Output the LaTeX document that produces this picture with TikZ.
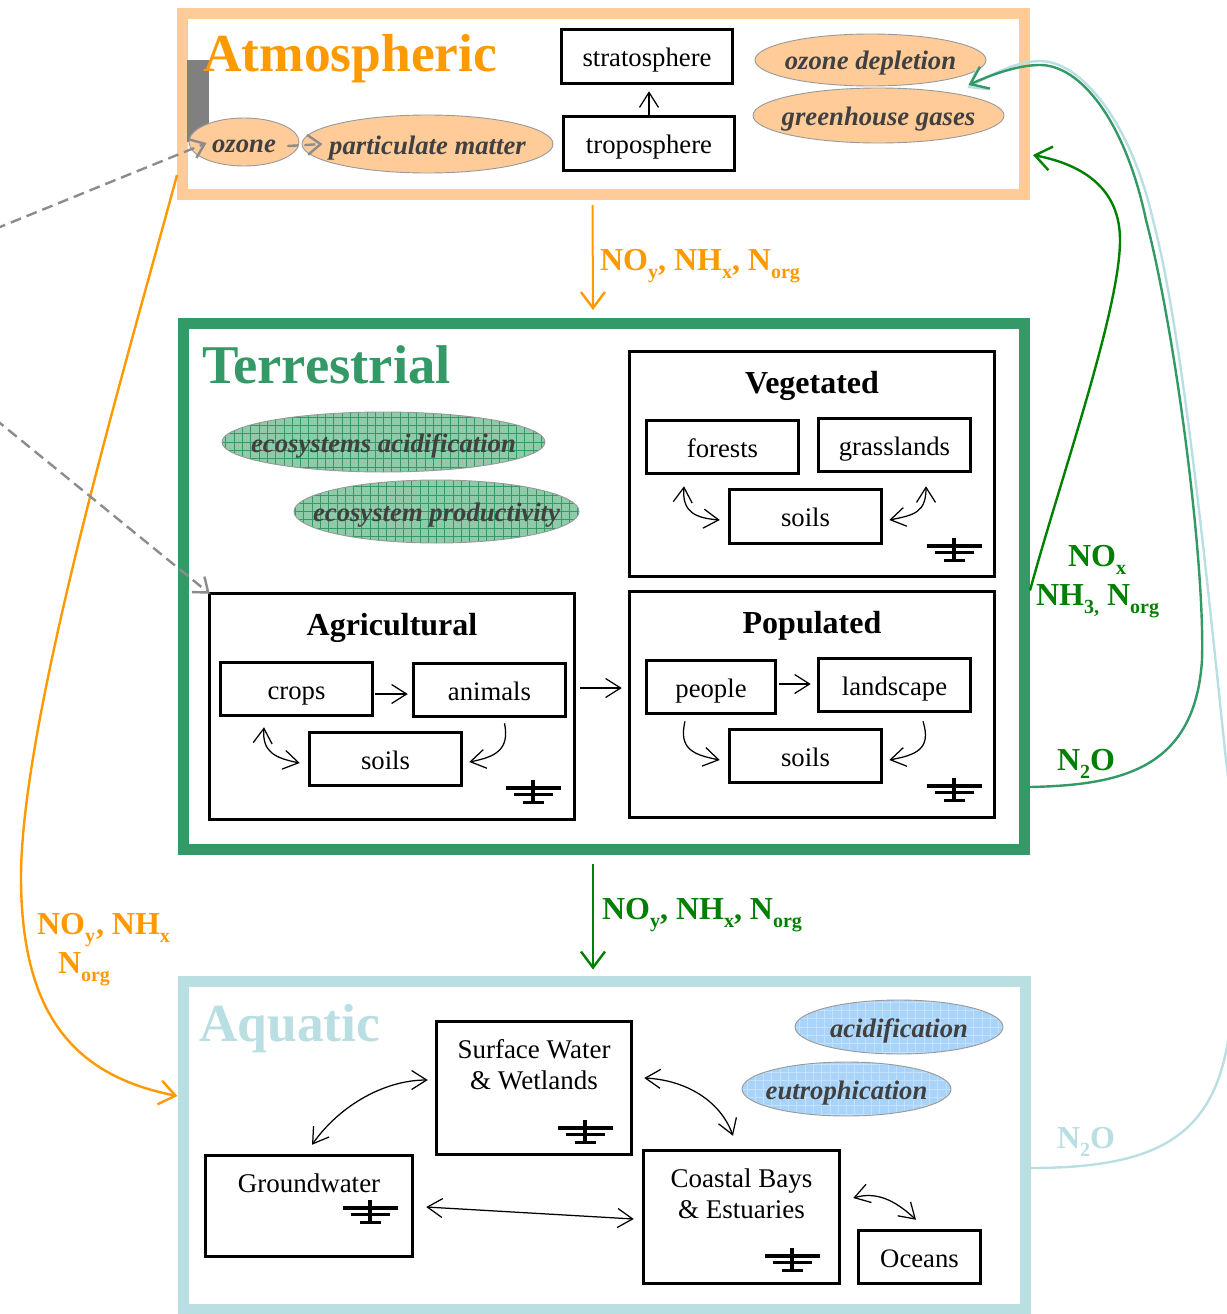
\documentclass[tikz,border=0pt]{standalone}
\usepackage{fontspec}
\setmainfont{Liberation Serif}
\usetikzlibrary{arrows.meta,shapes.geometric,calc}
\definecolor{cOrange}{HTML}{FF9900}
\definecolor{cPeach}{HTML}{FFCC99}
\definecolor{cSea}{HTML}{339966}
\definecolor{cGreen}{HTML}{008000}
\definecolor{cAqua}{HTML}{B9DFE3}
\definecolor{cGreenFill}{HTML}{8FCBA8}
\definecolor{cBlueFill}{HTML}{A8D4FA}
\definecolor{cBlueLine}{HTML}{C4E0FA}
\definecolor{cEllText}{HTML}{404040}
\definecolor{cDash}{HTML}{8C8C8C}
\newcommand{\sbs}[1]{\raisebox{-.28em}{\fontsize{20}{20}\selectfont #1}}
\tikzset{
  x=1pt,y=-1pt,
  frame/.style={draw=#1,line width=11pt,inner sep=0pt,fill=white},
  boxn/.style={draw=black,line width=3pt,inner sep=0pt,outer sep=0pt,text height=20pt,text depth=0pt,font=\fontsize{26.7}{32}\selectfont},
  plain/.style={inner sep=0pt,outer sep=0pt},
  bigtitle/.style={plain,font=\fontsize{53.5}{60}\selectfont\bfseries,anchor=base west},
  subtitle/.style={plain,font=\fontsize{32}{38}\selectfont\bfseries},
  bodytext/.style={plain,font=\fontsize{27}{32}\selectfont},
  flowlabel/.style={plain,font=\fontsize{32}{38}\selectfont\bfseries},
  ell/.style={ellipse,draw=gray!80,line width=.9pt,inner sep=0pt},
  elltext/.style={plain,text=cEllText,text height=20pt,text depth=0pt,font=\fontsize{26.7}{32}\selectfont\bfseries\itshape},
  peachell/.style={ell,fill=cPeach},
  thin arrow/.style={black,line width=1.25pt,-{Straight Barb[length=15pt,width=19pt,line width=1.25pt]}},
  both arrow/.style={black,line width=1.25pt,{Straight Barb[length=15pt,width=19pt,line width=1.25pt]}-{Straight Barb[length=15pt,width=19pt,line width=1.25pt]}},
  curve arrow/.style={line width=2.4pt,-{Straight Barb[length=16pt,width=24pt,line width=2.4pt]}},
  dash arrow/.style={draw=cDash,line width=2.4pt,dash pattern=on 11pt off 6pt,-{Straight Barb[length=13pt,width=20pt,line width=2.4pt]}},
  hatchgreen/.style={ell,fill=cGreenFill,path picture={
    \foreach \i in {-22,...,22}{\draw[cSea,line width=.7pt] ({8.3*\i},-50)--({8.3*\i},50);}
    \foreach \i in {-6,...,6}{\draw[cSea,line width=.7pt] (-200,{8.3*\i})--(200,{8.3*\i});}}},
  hatchblue/.style={ell,fill=cBlueFill,path picture={
    \foreach \i in {-16,...,16}{\draw[cBlueLine,line width=.8pt] ({8.3*\i},-50)--({8.3*\i},50);}
    \foreach \i in {-6,...,6}{\draw[cBlueLine,line width=.8pt] (-200,{8.3*\i})--(200,{8.3*\i});}}},
  pics/groundmark/.style={code={
    \draw[black,line width=3.5pt] (-27.5,0)--(27.5,0) (-19.5,6.5)--(19.5,6.5) (-10.5,14.5)--(10.5,14.5);
    \draw[black,line width=3.8pt] (0,-8)--(0,16);}},
}
\begin{document}
\begin{tikzpicture}
\useasboundingbox (0,0) rectangle (1226,1314);
% frames
\node[frame=cPeach,minimum width=842pt,minimum height=181pt] (atm) at (603.5,104) {};
\node[frame=cSea,minimum width=841pt,minimum height=526pt] (terr) at (604,586.5) {};
\node[frame=cAqua,minimum width=842pt,minimum height=328pt] (aq) at (604,1145) {};
\node[fill=gray,plain,minimum width=22pt,minimum height=82pt] (bar) at (198,101) {};
% titles
\node[bigtitle,text=cOrange] (tatm) at (203,71) {Atmospheric};
\node[bigtitle,text=cSea,font=\fontsize{54.6}{60}\selectfont\bfseries] (tterr) at (202,383) {Terrestrial};
\node[bigtitle,text=cAqua] (taq) at (199,1041) {Aquatic};
% atmospheric
\node[boxn,minimum width=170.5pt,minimum height=53.5pt] (strat) at (647,56.5) {stratosphere};
\node[boxn,minimum width=170.5pt,minimum height=53.5pt] (trop) at (649,143.5) {troposphere};
\node[peachell,minimum width=110pt,minimum height=48pt] (ozone) at (244,142) {};
\node[elltext] (tozone) at (ozone) {ozone};
\node[peachell,minimum width=251pt,minimum height=58pt] (pm) at (427.5,144) {};
\node[elltext] (tpm) at (pm) {particulate matter};
\node[peachell,minimum width=231pt,minimum height=52pt] (odep) at (870.5,60) {};
\node[elltext] (todep) at (odep) {ozone depletion};
\node[peachell,minimum width=251pt,minimum height=55pt] (ghg) at (878.5,115.5) {};
\node[elltext] (tghg) at (ghg) {greenhouse gases};
% terrestrial ellipses
\node[hatchgreen,minimum width=323pt,minimum height=60pt] (ea) at (383.5,442) {};
\node[elltext] (tea) at (ea) {ecosystems acidification};
\node[hatchgreen,minimum width=285pt,minimum height=63pt] (ep) at (436.5,511.5) {};
\node[elltext] (tep) at (ep) {ecosystem productivity};
% vegetated
\node[boxn,minimum width=364.5pt,minimum height=224.5pt] (veg) at (812,464) {};
\node[subtitle] (tveg) at (812,386) {Vegetated};
\node[boxn,minimum width=151.5pt,minimum height=52.5pt] (forests) at (722.5,447) {forests};
\node[boxn,minimum width=151.5pt,minimum height=52.5pt] (grass) at (894.5,445) {grasslands};
\node[boxn,minimum width=151.5pt,minimum height=53.5pt] (vsoils) at (805.5,516.5) {soils};
\pic at (954,546) {groundmark};
% agricultural
\node[boxn,minimum width=364.5pt,minimum height=225.5pt] (agr) at (392,706.5) {};
\node[subtitle] (tagr) at (392,628) {Agricultural};
\node[boxn,minimum width=151.5pt,minimum height=52.5pt] (crops) at (296.5,689) {crops};
\node[boxn,minimum width=151.5pt,minimum height=52.5pt] (animals) at (489.5,690) {animals};
\node[boxn,minimum width=151.5pt,minimum height=52.5pt] (asoils) at (385.5,759) {soils};
\pic at (533,788) {groundmark};
% populated
\node[boxn,minimum width=364.5pt,minimum height=225.5pt] (pop) at (812,704.5) {};
\node[subtitle] (tpop) at (812,626) {Populated};
\node[boxn,minimum width=128.5pt,minimum height=52.5pt] (people) at (711,687) {people};
\node[boxn,minimum width=151.5pt,minimum height=52.5pt] (land) at (894.5,685) {landscape};
\node[boxn,minimum width=151.5pt,minimum height=52.5pt] (psoils) at (805.5,756) {soils};
\pic at (954,786) {groundmark};
% aquatic
\node[hatchblue,minimum width=208pt,minimum height=54pt] (acid) at (899,1027) {};
\node[elltext] (tacid) at (acid) {acidification};
\node[hatchblue,minimum width=209pt,minimum height=54pt] (eutro) at (846.5,1089) {};
\node[elltext] (teutro) at (eutro) {eutrophication};
\node[boxn,minimum width=194.5pt,minimum height=132.5pt] (surf) at (534,1088) {};
\node[bodytext,align=center] (tsurf) at (534,1065) {Surface Water\\[-1pt]\& Wetlands};
\pic at (585,1128) {groundmark};
\node[boxn,minimum width=206.5pt,minimum height=100.5pt] (gw) at (309,1206) {};
\node[bodytext] (tgw) at (309,1183) {Groundwater};
\pic at (370,1208) {groundmark};
\node[boxn,minimum width=195.5pt,minimum height=132.5pt] (coast) at (741.5,1217) {};
\node[bodytext,align=center] (tcoast) at (741.5,1194) {Coastal Bays\\[-1pt]\& Estuaries};
\pic at (792,1256) {groundmark};
\node[boxn,minimum width=121.5pt,minimum height=52.5pt] (oceans) at (919.5,1257) {Oceans};
% thin connectors
\draw[thin arrow] ([yshift=2pt]trop.north) -- ([yshift=-8pt]strat.south -| trop.north);
\draw[thin arrow] ([xshift=3pt,yshift=-5pt]crops.east) -- ([xshift=-6pt,yshift=-4pt]animals.west);
\draw[thin arrow] ([xshift=6pt,yshift=18.5pt]agr.east) -- ([xshift=-8pt,yshift=16.5pt]pop.west);
\draw[thin arrow] ([xshift=4pt,yshift=3pt]people.east) -- ([xshift=-8pt,yshift=1pt]land.west);
\draw[both arrow] ([xshift=-38.5pt,yshift=-13pt]forests.south) .. controls (682,512) and (695,518) .. ([xshift=-10pt,yshift=-3.5pt]vsoils.west);
\draw[both arrow] ([xshift=31.5pt,yshift=-15pt]grass.south) .. controls (926,512) and (915,515) .. ([xshift=8pt,yshift=-3.5pt]vsoils.east);
\draw[both arrow] ([xshift=-32.5pt,yshift=-12pt]crops.south) .. controls (262,752) and (275,758) .. ([xshift=-10pt,yshift=-4pt]asoils.west);
\draw[thin arrow] ([xshift=15pt,yshift=-7pt]animals.south) .. controls (510,750) and (495,757) .. ([xshift=8pt,yshift=-3pt]asoils.east);
\draw[thin arrow] ([xshift=-26pt,yshift=-8pt]people.south) .. controls (678,750) and (695,755) .. ([xshift=-10pt,yshift=-4pt]psoils.west);
\draw[thin arrow] ([xshift=28.5pt,yshift=-10pt]land.south) .. controls (932,750) and (915,755) .. ([xshift=8pt,yshift=-4pt]psoils.east);
\draw[both arrow] ([xshift=3pt,yshift=11pt]gw.north) .. controls (340,1105) and (385,1080) .. ([xshift=-9pt,yshift=8pt]surf.west);
\draw[both arrow] ([xshift=13pt,yshift=10pt]surf.east) .. controls (685,1080) and (720,1100) .. ([xshift=-8.5pt,yshift=15pt]coast.north);
\draw[both arrow] ([xshift=14pt,yshift=-1pt]gw.east) -- ([xshift=-10pt,yshift=-2pt]coast.west);
\draw[both arrow] ([xshift=14pt,yshift=19pt]coast.east) .. controls (880,1190) and (900,1205) .. ([xshift=-3.5pt,yshift=11pt]oceans.north);
% colored vertical arrows
\draw[cOrange,curve arrow,line width=2pt] ([xshift=-11pt,yshift=-5pt]atm.south) -- ([xshift=-11pt,yshift=8pt]terr.north);
\draw[cGreen,curve arrow,line width=2pt] ([xshift=-11pt,yshift=-9pt]terr.south) -- ([xshift=-11pt,yshift=6pt]aq.north);
% long curves
\draw[cAqua,curve arrow] ([yshift=-23pt]aq.east) .. controls (1170,1168) and (1226,1130) .. (1232,1000) .. controls (1236,900) and (1232,800) .. (1226,760) .. controls (1205,560) and (1182,330) .. (1153,220) .. controls (1130,120) and (1080,61) .. (1040,61) .. controls (1020,61) and (995,72) .. ([shift={(97pt,-28pt)}]odep.center);
\draw[cSea,curve arrow] ([yshift=-200.5pt]terr.east) .. controls (1120,785) and (1195,770) .. (1202,660) .. controls (1205,560) and (1175,330) .. (1146,220) .. controls (1125,120) and (1080,65) .. (1040,65) .. controls (1020,65) and (995,73) .. ([shift={(98pt,-25pt)}]odep.center);
\draw[cGreen,curve arrow] ([yshift=-4pt]terr.east) .. controls (1060,480) and (1120,310) .. (1120,240) .. controls (1120,190) and (1085,165) .. ([xshift=3pt,yshift=-51pt]atm.east);
\draw[cOrange,curve arrow] ([yshift=-71pt]atm.west) .. controls (130,350) and (20,720) .. (21,880) .. controls (22,1010) and (70,1075) .. ([yshift=49pt]aq.west);
% dashed
\coordinate (dashA) at (-5,229);
\coordinate (dashB) at (-5,419);
\draw[dash arrow] (dashA) -- ([xshift=18pt,yshift=-1pt]ozone.west);
\draw[dash arrow] (dashB) -- (agr.north west);
\draw[dash arrow] ([xshift=-12pt,yshift=-4pt]ozone.east) -- ([xshift=21pt,yshift=0pt]pm.west);
% labels
\node[flowlabel,text=cOrange,anchor=base west] (l1) at (600,270) {NO\sbs{y}, NH\sbs{x}, N\sbs{org}};
\node[flowlabel,text=cGreen,anchor=base west] (l2) at (602,919) {NO\sbs{y}, NH\sbs{x}, N\sbs{org}};
\node[flowlabel,text=cOrange,anchor=base west] (l3) at (37,934) {NO\sbs{y}\hspace{1pt}, NH\sbs{x}};
\node[flowlabel,text=cOrange,anchor=base west] (l4) at (58,973) {N\sbs{org}};
\node[flowlabel,text=cGreen,anchor=base west] (l5) at (1068,566) {NO\sbs{x}};
\node[flowlabel,text=cGreen,anchor=base west] (l6) at (1036,605) {NH\sbs{3,} N\sbs{org}};
\node[flowlabel,text=cGreen,anchor=base west] (l7) at (1057,770) {N\sbs{2}O};
\node[flowlabel,text=cAqua,anchor=base west] (l8) at (1057,1148) {N\sbs{2}O};
\end{tikzpicture}
\end{document}
